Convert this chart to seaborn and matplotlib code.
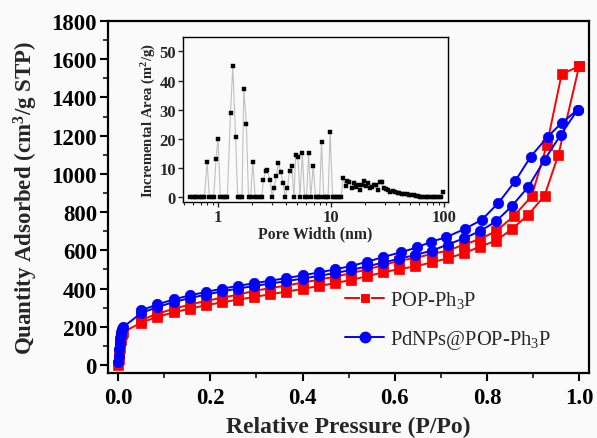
import numpy as np
import pandas as pd
import matplotlib
matplotlib.use("Agg")
import matplotlib.pyplot as plt
import seaborn as sns
from matplotlib.ticker import MultipleLocator, NullFormatter, LogLocator
from matplotlib.lines import Line2D

sns.set_style("ticks")
plt.rcParams['font.family'] = ['Liberation Serif', 'DejaVu Serif']
plt.rcParams['mathtext.fontset'] = 'custom'
plt.rcParams['mathtext.rm'] = 'Liberation Serif'
plt.rcParams['mathtext.bf'] = 'Liberation Serif:bold'
plt.rcParams['mathtext.it'] = 'Liberation Serif:italic'

# ---------------- data ----------------
series_names = ["POP-Ph$_3$P", "PdNPs@POP-Ph$_3$P"]

pop_ads_p = [0.0, 0.001, 0.002, 0.003, 0.004, 0.005, 0.006, 0.008, 0.011,
             0.05, 0.085, 0.12, 0.155, 0.19, 0.225, 0.26, 0.295, 0.33, 0.365,
             0.40, 0.435, 0.47, 0.505, 0.54, 0.575, 0.61, 0.645, 0.68, 0.715,
             0.75, 0.785, 0.82, 0.855, 0.89, 0.925, 0.955, 1.0]
pop_ads_v = [0, 30, 60, 90, 113, 132, 148, 162, 172,
             222, 252, 275, 295, 312, 328, 342, 356, 370, 384,
             398, 413, 428, 445, 464, 485, 502, 516, 537, 558,
             585, 619, 651, 712, 787, 886, 1099, 1563]
pop_des_p = [1.0, 0.962, 0.93, 0.897, 0.858, 0.82, 0.785, 0.75, 0.715, 0.68,
             0.645, 0.61, 0.575, 0.54, 0.505, 0.47, 0.435, 0.40, 0.365, 0.33,
             0.295, 0.26, 0.225, 0.19, 0.155, 0.12, 0.085, 0.05]
pop_des_v = [1563, 1521, 1151, 883, 778, 701, 659, 630, 598, 581,
             560, 546, 522, 500, 480, 462, 446, 431, 416, 402,
             388, 368, 352, 335, 316, 294, 268, 236]

pd_ads_p = [0.0005, 0.001, 0.002, 0.003, 0.004, 0.005, 0.006, 0.008, 0.010,
            0.05, 0.085, 0.12, 0.155, 0.19, 0.225, 0.26, 0.295, 0.33, 0.365,
            0.40, 0.435, 0.47, 0.505, 0.54, 0.575, 0.61, 0.645, 0.68, 0.715,
            0.75, 0.785, 0.82, 0.855, 0.89, 0.925, 0.96, 0.997]
pd_ads_v = [15, 45, 85, 115, 140, 158, 172, 186, 197,
            272, 303, 329, 350, 368, 385, 400, 413, 426, 439,
            452, 466, 481, 497, 516, 536, 556, 576, 598, 630,
            663, 700, 752, 834, 933, 1073, 1204, 1336]
pd_des_p = [0.997, 0.962, 0.932, 0.895, 0.861, 0.825, 0.789, 0.752, 0.711, 0.679,
            0.649, 0.614, 0.575, 0.54, 0.505, 0.47, 0.435, 0.40, 0.365, 0.33,
            0.295, 0.26, 0.225, 0.19, 0.155, 0.12, 0.085, 0.05]
pd_des_v = [1336, 1266, 1195, 1090, 961, 848, 760, 712, 668, 645,
            616, 590, 565, 540, 518, 500, 484, 469, 455, 441,
            428, 414, 399, 382, 364, 343, 317, 286]

pore_width = [0.571, 0.598, 0.628, 0.658, 0.690, 0.723, 0.758, 0.80, 0.839, 0.880,
              0.916, 0.96, 1.00, 1.048, 1.099, 1.152, 1.208, 1.29, 1.35, 1.43,
              1.49, 1.55, 1.63, 1.69, 1.78, 1.86, 1.94, 2.03, 2.13, 2.23,
              2.34, 2.44, 2.52, 2.63, 2.73, 2.89, 3.00, 3.13, 3.28, 3.42,
              3.58, 3.76, 3.91, 4.10, 4.30, 4.48, 4.69, 4.86, 5.09, 5.30,
              5.56, 5.82, 6.06, 6.32, 6.61, 6.94, 7.28, 7.58, 7.90, 8.22,
              8.60, 8.98, 9.40, 9.80, 10.3, 10.8, 11.3, 11.8, 12.3, 12.7,
              13.4, 13.9, 14.5, 15.2, 15.8, 16.5, 17.3, 18.0, 18.7, 19.5,
              20.3, 21.1, 22.0, 22.9, 23.9, 24.9, 25.9, 27.0, 28.1, 29.2,
              30.6, 32.0, 33.4, 35.2, 36.7, 38.6, 40.2, 42.1, 44.0, 46.4,
              48.7, 51.1, 53.5, 55.8, 58.5, 61.1, 64.2, 67.3, 70.5, 73.9,
              77.5, 81.3, 85.2, 89.3, 93.6, 98.4]
incr_area = [0, 0, 0, 0, 0, 0, 0, 12, 0, 0,
             0, 13, 20, 0, 0, 0, 0, 29, 45, 20.5,
             0, 0, 0, 37, 25, 0, 0, 12, 0, 0,
             0, 0, 6, 8.8, 9.2, 5.7, 0, 3.2, 7.4, 11.6,
             8.7, 4.9, 0, 3, 9, 10.6, 0, 14.5, 13.8, 0,
             15, 0, 0, 15, 0, 10.8, 0, 0, 0, 18.8,
             0, 0, 0, 22.5, 0, 0, 0, 0, 0, 6.6,
             3.7, 5.5, 5.1, 3.1, 4.7, 3.4, 4.3, 2.5, 4.3, 5.5,
             3.9, 4.8, 3.2, 3.3, 4.3, 4.0, 2.5, 5.2, 5.3, 3.2,
             2.9, 2.3, 1.7, 2.1, 1.7, 1.4, 1.4, 1.1, 1.0, 0.9,
             0.8, 0.7, 0.6, 0.5, 0.2, 0, 0, 0, 0, 0,
             0, 0, 0, 0, 0, 1.8]

x_ticks = [0.0, 0.2, 0.4, 0.6, 0.8, 1.0]
x_ticklabels = ["0.0", "0.2", "0.4", "0.6", "0.8", "1.0"]
y_ticks = [0, 200, 400, 600, 800, 1000, 1200, 1400, 1600, 1800]
inset_y_ticks = [0, 10, 20, 30, 40, 50]
inset_x_ticks = [1, 10, 100]

# ---------------- tables ----------------
df_pop = pd.DataFrame({"P": pop_ads_p + pop_des_p, "V": pop_ads_v + pop_des_v})
df_pd = pd.DataFrame({"P": pd_ads_p + pd_des_p, "V": pd_ads_v + pd_des_v})
df_pore = pd.DataFrame({"w": pore_width, "a": incr_area})

bg = "#fafafa"
fig = plt.figure(figsize=(5.97, 4.39), dpi=100, facecolor=bg)
ax = fig.add_axes([0.181, 0.148, 0.806, 0.802])
ax.set_facecolor(bg)

sns.lineplot(data=df_pop, x="P", y="V", ax=ax, sort=False, estimator=None,
             color="#ff0000", lw=1.4, marker="s", markersize=6.5,
             markeredgecolor="#ff0000", markeredgewidth=0.5)
sns.lineplot(data=df_pd, x="P", y="V", ax=ax, sort=False, estimator=None,
             color="#0000ff", lw=1.4, marker="o", markersize=7.5,
             markeredgecolor="#0000ff", markeredgewidth=0.5)

ax.set_xlim(-0.022, 1.022)
ax.set_ylim(-42, 1800)
ax.set_xticks(x_ticks)
ax.set_xticklabels(x_ticklabels)
ax.set_yticks(y_ticks)
ax.xaxis.set_minor_locator(MultipleLocator(0.1))
ax.yaxis.set_minor_locator(MultipleLocator(100))
ax.tick_params(axis="both", which="major", direction="out", length=6, width=1.5,
               labelsize=16.5, pad=2, colors="black")
ax.tick_params(axis="x", which="major", pad=4)
ax.tick_params(axis="both", which="minor", direction="out", length=3.5, width=1.3)
for lab in ax.get_xticklabels() + ax.get_yticklabels():
    lab.set_fontweight("bold")
for sp in ax.spines.values():
    sp.set_visible(True)
    sp.set_linewidth(1.6)
    sp.set_color("black")

ax.set_xlabel("Relative Pressure (P/Po)", fontsize=17, fontweight="bold", labelpad=6)
ax.set_ylabel(r"Quantity Adsorbed (cm$\mathbf{^3}$/g STP)", fontsize=16.5,
              fontweight="bold", labelpad=8)

handles = [Line2D([], [], color="#ff0000", lw=1.4, marker="s", markersize=6.5,
                  markeredgecolor="white", markeredgewidth=0.8),
           Line2D([], [], color="#0000ff", lw=1.4, marker="o", markersize=7.5)]
ax.legend(handles, series_names, loc="upper left", bbox_to_anchor=(0.455, 0.29),
          frameon=False, fontsize=14.8, handlelength=1.85, handletextpad=0.3,
          labelspacing=0.85)

# ---------------- inset ----------------
axi = fig.add_axes([0.3065, 0.5376, 0.444, 0.376])
axi.set_facecolor(bg)
sns.lineplot(data=df_pore, x="w", y="a", ax=axi, sort=False, estimator=None,
             color="#c0c0c0", lw=0.8, marker="s", markersize=3.5,
             markerfacecolor="black", markeredgecolor="black", markeredgewidth=0.3)
axi.set_xscale("log")
axi.set_xlim(0.49, 108)
axi.set_ylim(-1.7, 55)
axi.set_xticks(inset_x_ticks)
axi.set_xticklabels([str(t) for t in inset_x_ticks])
axi.set_yticks(inset_y_ticks)
axi.xaxis.set_minor_locator(LogLocator(base=10, subs=np.arange(2, 10)))
axi.xaxis.set_minor_formatter(NullFormatter())
axi.tick_params(axis="both", which="major", direction="out", length=3.5, width=1.0,
                labelsize=12, pad=1.5)
axi.tick_params(axis="both", which="minor", direction="out", length=2, width=0.8)
for lab in axi.get_xticklabels() + axi.get_yticklabels():
    lab.set_fontweight("bold")
for sp in axi.spines.values():
    sp.set_visible(True)
    sp.set_linewidth(1.0)
    sp.set_color("black")
axi.set_xlabel("Pore Width (nm)", fontsize=11.3, fontweight="bold", labelpad=0)
axi.set_ylabel(r"Incremental Area (m$\mathbf{^2}$/g)", fontsize=10.5,
               fontweight="bold", labelpad=1)

fig.savefig("out.png", dpi=100, facecolor=bg)
